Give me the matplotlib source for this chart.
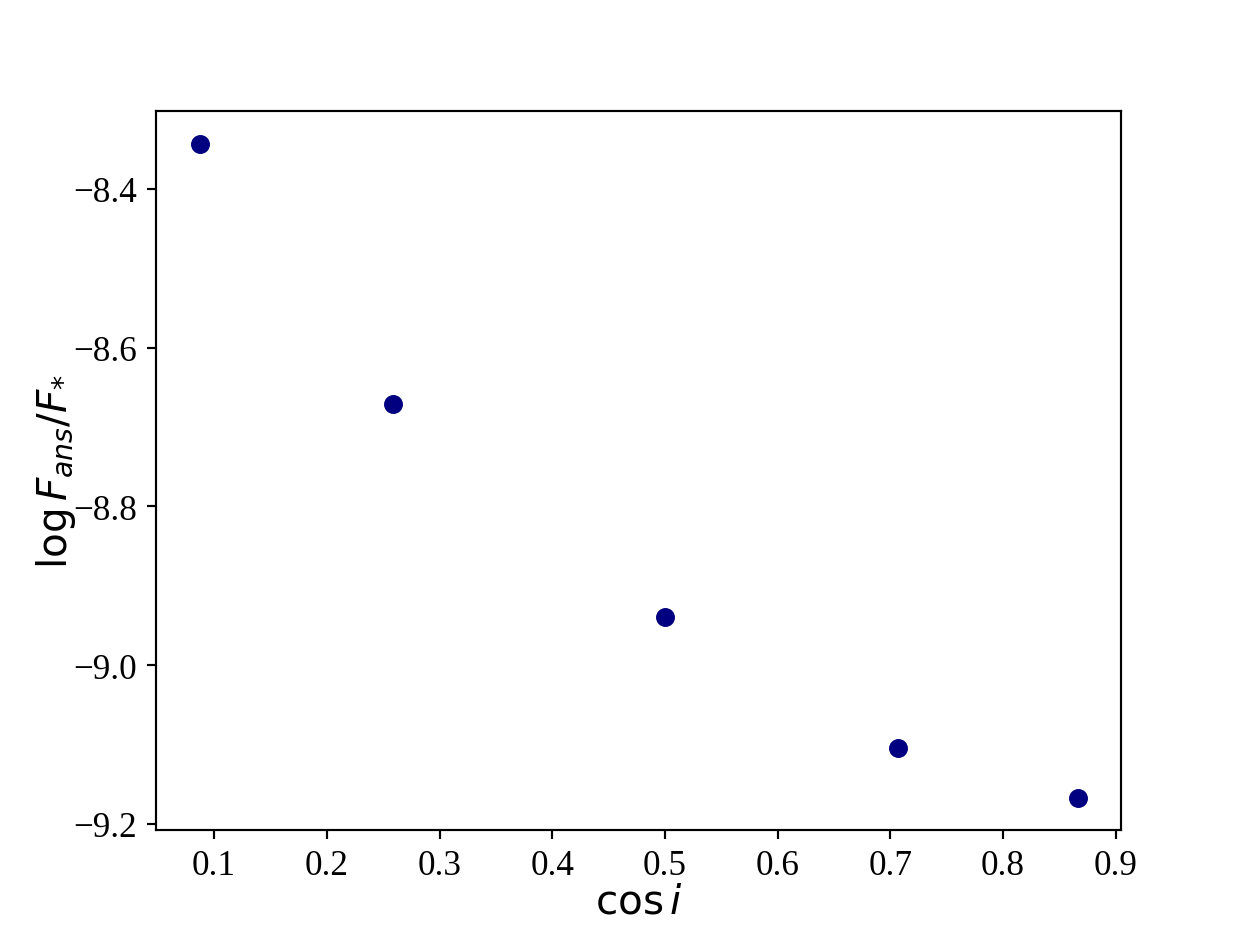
import numpy as np
import matplotlib
matplotlib.use("Agg")
import matplotlib.pyplot as plt

# inclination angles -> cos i
cos_i = [0.0872, 0.2588, 0.5, 0.7071, 0.8660]
log_flux_ratio = [-8.343, -8.671, -8.940, -9.104, -9.167]

plt.rcParams['font.family'] = 'serif'
plt.rcParams['font.serif'] = ['Liberation Serif', 'DejaVu Serif']
plt.rcParams['mathtext.fontset'] = 'dejavusans'

fig, ax = plt.subplots(figsize=(6.4, 4.797), dpi=194.6875)

ax.scatter(cos_i, log_flux_ratio, color='navy', s=36)

ax.set_xlabel(r'$\cos i$', fontsize=15, labelpad=1)
ax.set_ylabel(r'$\log F_{ans}/F_{*}$', fontsize=15, labelpad=-2)
ax.tick_params(labelsize=13)

fig.savefig("out.png", dpi=194.6875)
